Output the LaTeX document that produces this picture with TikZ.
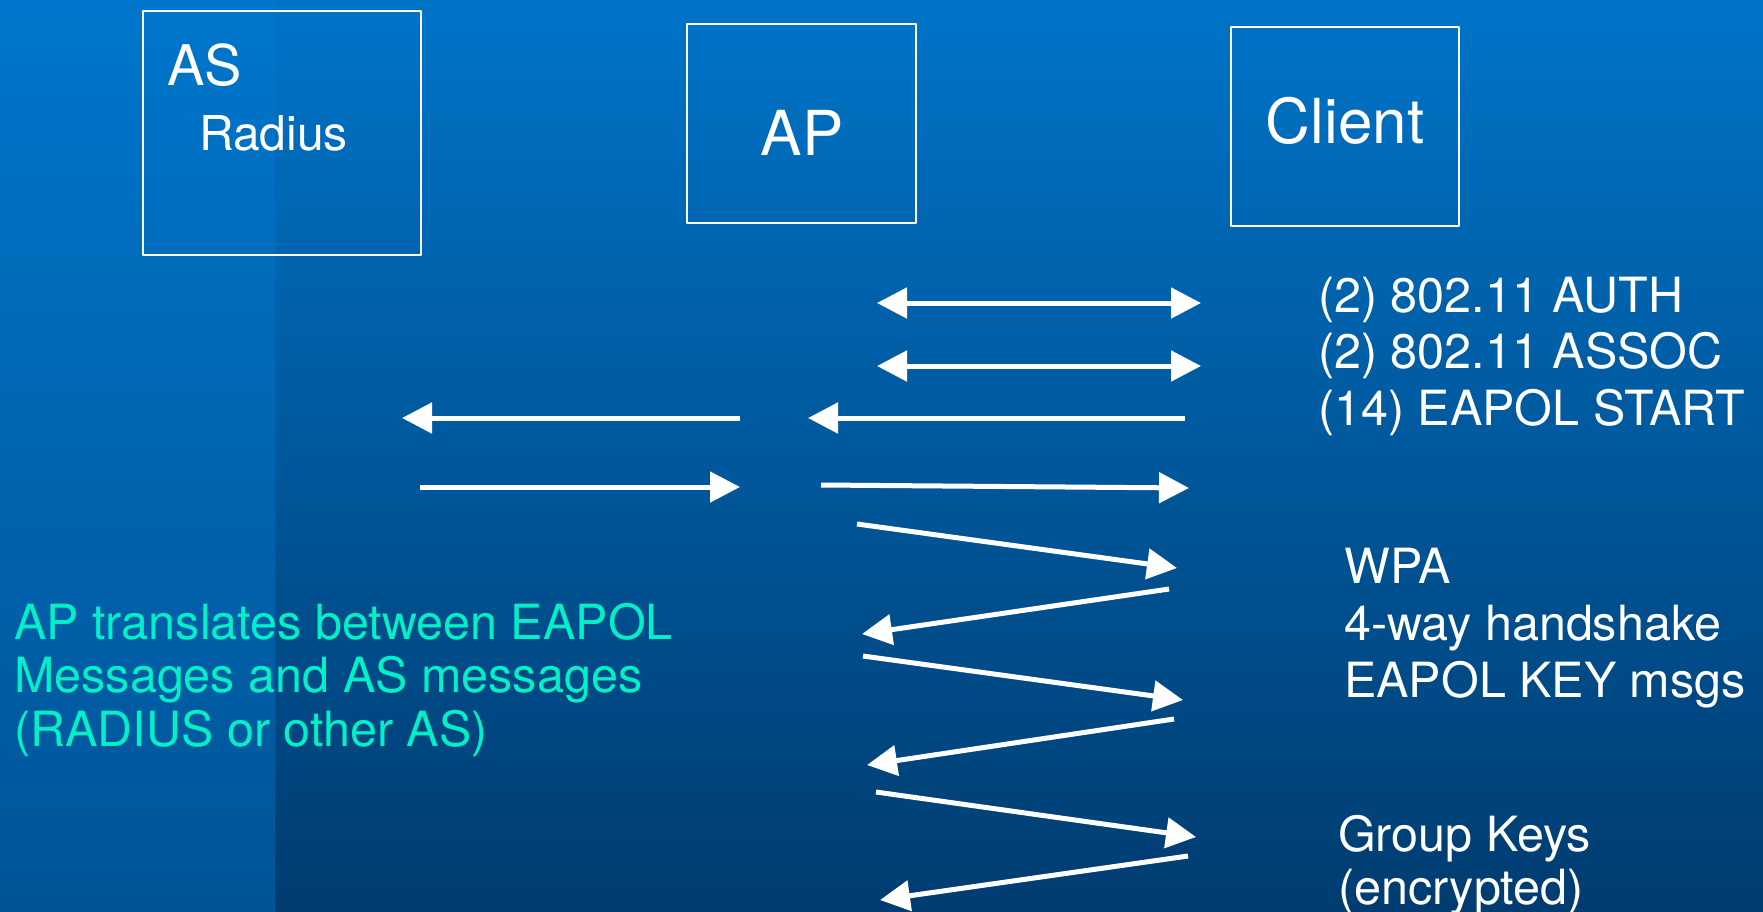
\documentclass[tikz,border=0pt]{standalone}
\usepackage{fontspec}
\setmainfont{TeX Gyre Heros}
\usetikzlibrary{arrows.meta,positioning}
\definecolor{bgtop}{RGB}{0,116,200}
\definecolor{bgbottom}{RGB}{0,60,112}
\definecolor{stripetop}{RGB}{0,118,204}
\definecolor{stripebottom}{RGB}{0,84,150}
\definecolor{notecyan}{RGB}{0,240,200}
\begin{document}
\begin{tikzpicture}[x=1pt, y=-1pt, line join=round,
	msg/.style={white, line width=5pt, -{Triangle[length=30pt, width=30pt]}},
	dmsg/.style={white, line width=5pt, {Triangle[length=30pt, width=30pt]}-{Triangle[length=30pt, width=30pt]}},
	entity/.style={draw=white, line width=1.5pt, inner sep=0pt},
	lbl/.style={white, inner sep=0pt, anchor=base west, align=left, font=\fontsize{48.5}{56.5}\selectfont}]
	% nen
	\shade[top color=bgtop, bottom color=bgbottom] (0,0) rectangle (1763,911);
	\shade[top color=stripetop, bottom color=stripebottom] (0,0) rectangle (275,911);
	\useasboundingbox (0,0) rectangle (1763,911);

	% cac khoi
	\node[entity, minimum width=278pt, minimum height=244pt] (as) at (282,133) {};
	\node[entity, minimum width=229pt, minimum height=199pt] (ap) at (801.5,123.5) {};
	\node[entity, minimum width=228pt, minimum height=199pt] (cl) at (1345,126.5) {};
	\node[white, inner sep=0pt, anchor=base west, font=\fontsize{56}{60}\selectfont] (asname) at (167,85) {AS};
	\node[white, inner sep=0pt, anchor=base west, font=\fontsize{48}{50}\selectfont] (asradius) at (199,150) {Radius};
	\node[white, inner sep=0pt, font=\fontsize{62}{66}\selectfont] at (802,133) {AP};
	\node[white, inner sep=0pt, font=\fontsize{62}{66}\selectfont] at (1345,121) {Client};

	% diem dau cuoi cac mui ten
	\coordinate (a1) at (877,303);  \coordinate (b1) at (1201,303);
	\coordinate (a2) at (877,366);  \coordinate (b2) at (1201,366);
	\coordinate (a3) at (740,418);  \coordinate (b3) at (402,418);
	\coordinate (a4) at (1185,418); \coordinate (b4) at (808,418);
	\coordinate (a5) at (420,487);  \coordinate (b5) at (740,487);
	\coordinate (a6) at (821,485);  \coordinate (b6) at (1189,488);
	\coordinate (a7) at (857,524);  \coordinate (b7) at (1177,568);
	\coordinate (a8) at (1169,589); \coordinate (b8) at (862,634);
	\coordinate (a9) at (863,656);  \coordinate (b9) at (1183,700);
	\coordinate (a10) at (1174,719); \coordinate (b10) at (867,765);
	\coordinate (a11) at (876,792); \coordinate (b11) at (1196,837);
	\coordinate (a12) at (1188,856); \coordinate (b12) at (880,900);

	\draw[dmsg] (a1) -- (b1);
	\draw[dmsg] (a2) -- (b2);
	\foreach \i in {3,...,12}
		\draw[msg] (a\i) -- (b\i);

	% chu thich (base = dong cuoi)
	\node[lbl] (assoc) at (1318,425) {(2) 802.11 AUTH\\(2) 802.11 ASSOC\\(14) EAPOL START};
	\node[lbl, font=\fontsize{48.5}{57}\selectfont] (wpa) at (1344,697) {WPA\\4-way handshake\\EAPOL KEY msgs};
	\node[lbl, font=\fontsize{48.5}{53}\selectfont] (grp) at (1338,904) {Group Keys\\(encrypted)};
	\node[lbl, notecyan, font=\fontsize{48.5}{53.5}\selectfont] (note) at (14,746) {AP translates between EAPOL\\Messages and AS messages\\(RADIUS or other AS)};
\end{tikzpicture}
\end{document}
